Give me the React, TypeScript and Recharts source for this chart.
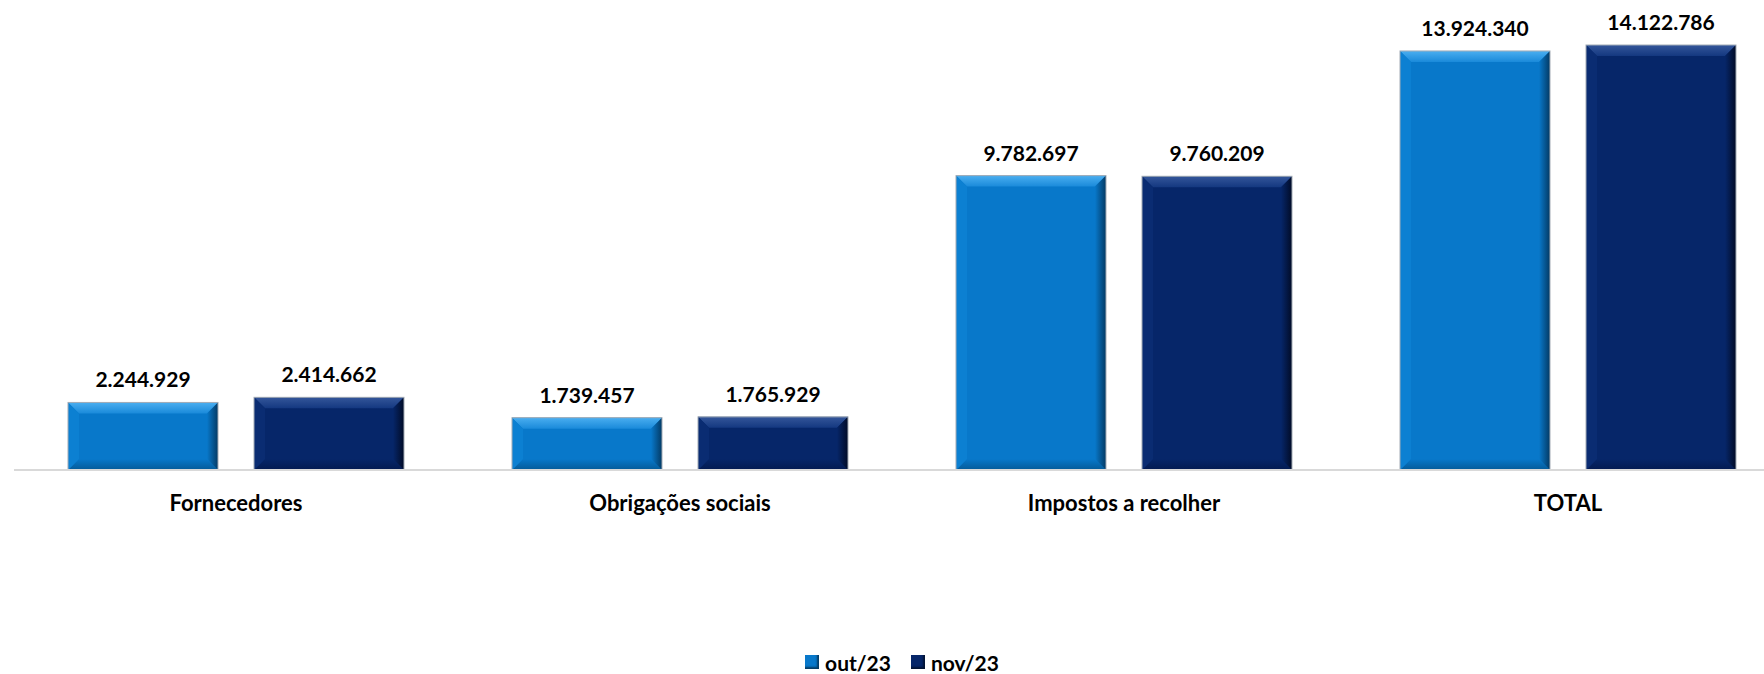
import React from 'react';
import { BarChart, Bar, XAxis, YAxis, LabelList, Legend } from 'recharts';

const categories = ['Fornecedores', 'Obrigações sociais', 'Impostos a recolher', 'TOTAL'];
const out23 = [2244929, 1739457, 9782697, 13924340];
const nov23 = [2414662, 1765929, 9760209, 14122786];
const seriesNames = ['out/23', 'nov/23'];

const data = categories.map((c, i) => ({ name: c, out: out23[i], nov: nov23[i] }));

const fmt = (v: any) => String(v).replace(/\B(?=(\d{3})+(?!\d))/g, '.');

const FONT = 'Lato, "Open Sans", sans-serif';

type Pal = { id: string; base: string; hi: string; top: string; bottom: string; left: string; right: string };
const palOut: Pal = { id: 'o', base: '#0878CA', hi: '#4AAEF0', top: '#1A8ADA', bottom: '#045A98', left: '#0C80D2', right: '#033A64' };
const palNov: Pal = { id: 'n', base: '#062669', hi: '#34569A', top: '#143880', bottom: '#031A50', left: '#0A2C72', right: '#010B26' };

const makeShape = (p: Pal) => (props: any) => {
  const { x, y, width: w, height: h } = props;
  if (!w || !h || h <= 0) return null;
  const b = Math.min(11, w / 2, h / 2);
  const gid = `g-${p.id}`;
  return (
    <g>
      <defs>
        <linearGradient id={gid} x1="0" y1="0" x2="0" y2="1">
          <stop offset="0" stopColor={p.hi} />
          <stop offset="1" stopColor={p.top} />
        </linearGradient>
        <linearGradient id={gid + 'b'} x1="0" y1="0" x2="0" y2="1">
          <stop offset="0" stopColor={p.base} />
          <stop offset="1" stopColor={p.bottom} />
        </linearGradient>
        <linearGradient id={gid + 'r'} x1="0" y1="0" x2="1" y2="0">
          <stop offset="0" stopColor={p.base} />
          <stop offset="1" stopColor={p.right} />
        </linearGradient>
      </defs>
      <rect x={x} y={y} width={w} height={h} fill={p.base} />
      <polygon points={`${x},${y} ${x + w},${y} ${x + w - b},${y + b} ${x + b},${y + b}`} fill={`url(#${gid})`} />
      <polygon points={`${x},${y + h} ${x + w},${y + h} ${x + w - b},${y + h - b} ${x + b},${y + h - b}`} fill={`url(#${gid}b)`} />
      <polygon points={`${x},${y} ${x + b},${y + b} ${x + b},${y + h - b} ${x},${y + h}`} fill={p.left} />
      <polygon points={`${x + w},${y} ${x + w - b},${y + b} ${x + w - b},${y + h - b} ${x + w},${y + h}`} fill={`url(#${gid}r)`} />
      <rect x={x} y={y} width={w} height={h} fill="none" stroke="#A3ACB6" strokeWidth={1} />
    </g>
  );
};

const legendColors = ['#0878CA', '#062669'];

const renderLegend = () => (
  <div style={{ display: 'flex', justifyContent: 'center', alignItems: 'center', height: 24, fontFamily: FONT, fontWeight: 700, fontSize: 21, color: '#000' }}>
    {seriesNames.map((n, i) => (
      <div key={n} style={{ display: 'flex', alignItems: 'center', marginRight: i === 0 ? 20 : 0 }}>
        <div style={{ width: 14, height: 14, background: legendColors[i], marginRight: 6, boxShadow: 'inset -2px -2px 2px rgba(0,0,0,0.5)' }} />
        <span>{n}</span>
      </div>
    ))}
  </div>
);

export default function App() {
  return (
    <div style={{ position: 'absolute', left: 0, top: 0, width: 1764, height: 674, overflow: 'hidden', background: '#fff' }}>
      <BarChart
        width={1800}
        height={674}
        data={data}
        margin={{ top: 18.6, right: 10, left: 14, bottom: 0 }}
        barGap={36}
      >
        <XAxis
          dataKey="name"
          height={180}
          interval={0}
          tickLine={false}
          tickSize={0}
          tickMargin={25}
          axisLine={{ stroke: '#D9D9D9', strokeWidth: 2 }}
          tick={{ fill: '#000', fontSize: 22, fontWeight: 700, fontFamily: FONT }}
        />
        <YAxis hide domain={[0, 15000000]} />
        <Legend verticalAlign="bottom" content={renderLegend} />
        <Bar dataKey="out" name={seriesNames[0]} barSize={150} fill={palOut.base} shape={makeShape(palOut)} isAnimationActive={false}>
          <LabelList dataKey="out" position="top" offset={15} formatter={fmt} style={{ fill: '#000', fontSize: 21, fontWeight: 700, fontFamily: FONT }} />
        </Bar>
        <Bar dataKey="nov" name={seriesNames[1]} barSize={150} fill={palNov.base} shape={makeShape(palNov)} isAnimationActive={false}>
          <LabelList dataKey="nov" position="top" offset={15} formatter={fmt} style={{ fill: '#000', fontSize: 21, fontWeight: 700, fontFamily: FONT }} />
        </Bar>
      </BarChart>
    </div>
  );
}
